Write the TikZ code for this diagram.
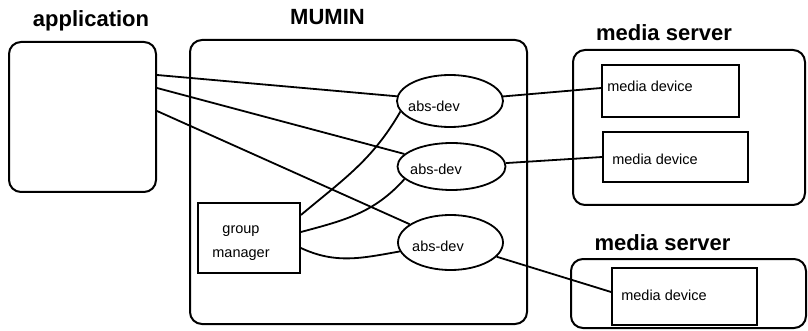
\documentclass[tikz,border=0pt]{standalone}
\usepackage{fontspec}
\setmainfont{Liberation Sans}
\usetikzlibrary{shapes.geometric}

\tikzset{
  frame/.style={draw, line width=2pt, rounded corners=12pt, inner sep=0pt},
  devbox/.style={draw, line width=1.8pt, inner sep=0pt},
  absdev/.style={draw, ellipse, line width=1.8pt, inner sep=0pt},
  title/.style={font=\bfseries\fontsize{22}{26}\selectfont, anchor=base, inner sep=0pt},
  small/.style={font=\fontsize{14.5}{24}\selectfont, inner sep=0pt},
  link/.style={line width=1.8pt},
}

\begin{document}
\begin{tikzpicture}[x=1pt, y=-1pt]
  \useasboundingbox (0,0) rectangle (808,331);

  % titles
  \node[title] (tapp) at (91,27) {application};
  \node[title] (tmumin) at (327.5,25) {MUMIN};
  \node[title] (tms1) at (664,41) {media server};
  \node[title] (tms2) at (662.5,250) {media server};

  % outer frames
  \node[frame, minimum width=147pt, minimum height=150pt] (app) at (82.5,117) {};
  \node[frame, minimum width=337pt, minimum height=284pt] (mumin) at (358.5,182) {};
  \node[frame, minimum width=232pt, minimum height=155pt] (ms1) at (689,127.5) {};
  \node[frame, minimum width=235pt, minimum height=69pt] (ms2) at (688.5,293.5) {};

  % media devices
  \node[devbox, minimum width=137pt, minimum height=52pt] (md1) at (670.5,91) {};
  \node[devbox, minimum width=145pt, minimum height=50pt] (md2) at (675.5,157) {};
  \node[devbox, minimum width=145pt, minimum height=57pt] (md3) at (684.5,296.5) {};
  \node[small, anchor=base west] (md1t) at ([xshift=6pt, yshift=-1pt]md1.west) {media device};
  \node[small, anchor=base west] (md2t) at ([xshift=10pt, yshift=-8pt]md2.west) {media device};
  \node[small, anchor=base west] (md3t) at ([xshift=10pt, yshift=-4pt]md3.west) {media device};

  % abstract devices
  \node[absdev, minimum width=106pt, minimum height=52pt] (abs1) at (450,101) {};
  \node[absdev, minimum width=108pt, minimum height=47pt] (abs2) at (451.5,166.5) {};
  \node[absdev, minimum width=105pt, minimum height=55pt] (abs3) at (450.5,242.5) {};
  \node[small, anchor=base west] (abs1t) at ([xshift=-42pt, yshift=-11pt]abs1.center) {abs-dev};
  \node[small, anchor=base west] (abs2t) at ([xshift=-41.5pt, yshift=-8.5pt]abs2.center) {abs-dev};
  \node[small, anchor=base west] (abs3t) at ([xshift=-38.5pt, yshift=-8.5pt]abs3.center) {abs-dev};

  % group manager
  \node[devbox, minimum width=102pt, minimum height=70pt] (gm) at (249,238) {};
  \node[small, align=center] (gmt) at ([xshift=-8pt, yshift=-5pt]gm.center) {group\\manager};

  % application to abstract devices
  \draw[link] ([yshift=42pt]app.east) -- (abs1);
  \draw[link] ([yshift=29pt]app.east) -- (abs2);
  \draw[link] ([yshift=6pt]app.east) -- (abs3);

  % abstract devices to media devices
  \draw[link] (abs1) -- ([yshift=3pt]md1.west);
  \draw[link] (abs2) -- (md2.west);
  \draw[link] (abs3) -- ([yshift=4.5pt]md3.west);

  % group manager to abstract devices
  \draw[link] ([yshift=23pt]gm.east) to[out=40, in=240] (abs1.192);
  \draw[link] ([yshift=6pt]gm.east) to[out=15, in=228] (abs2.195);
  \draw[link] ([yshift=-10pt]gm.east) to[out=-25, in=190] (abs3.190);
\end{tikzpicture}
\end{document}
